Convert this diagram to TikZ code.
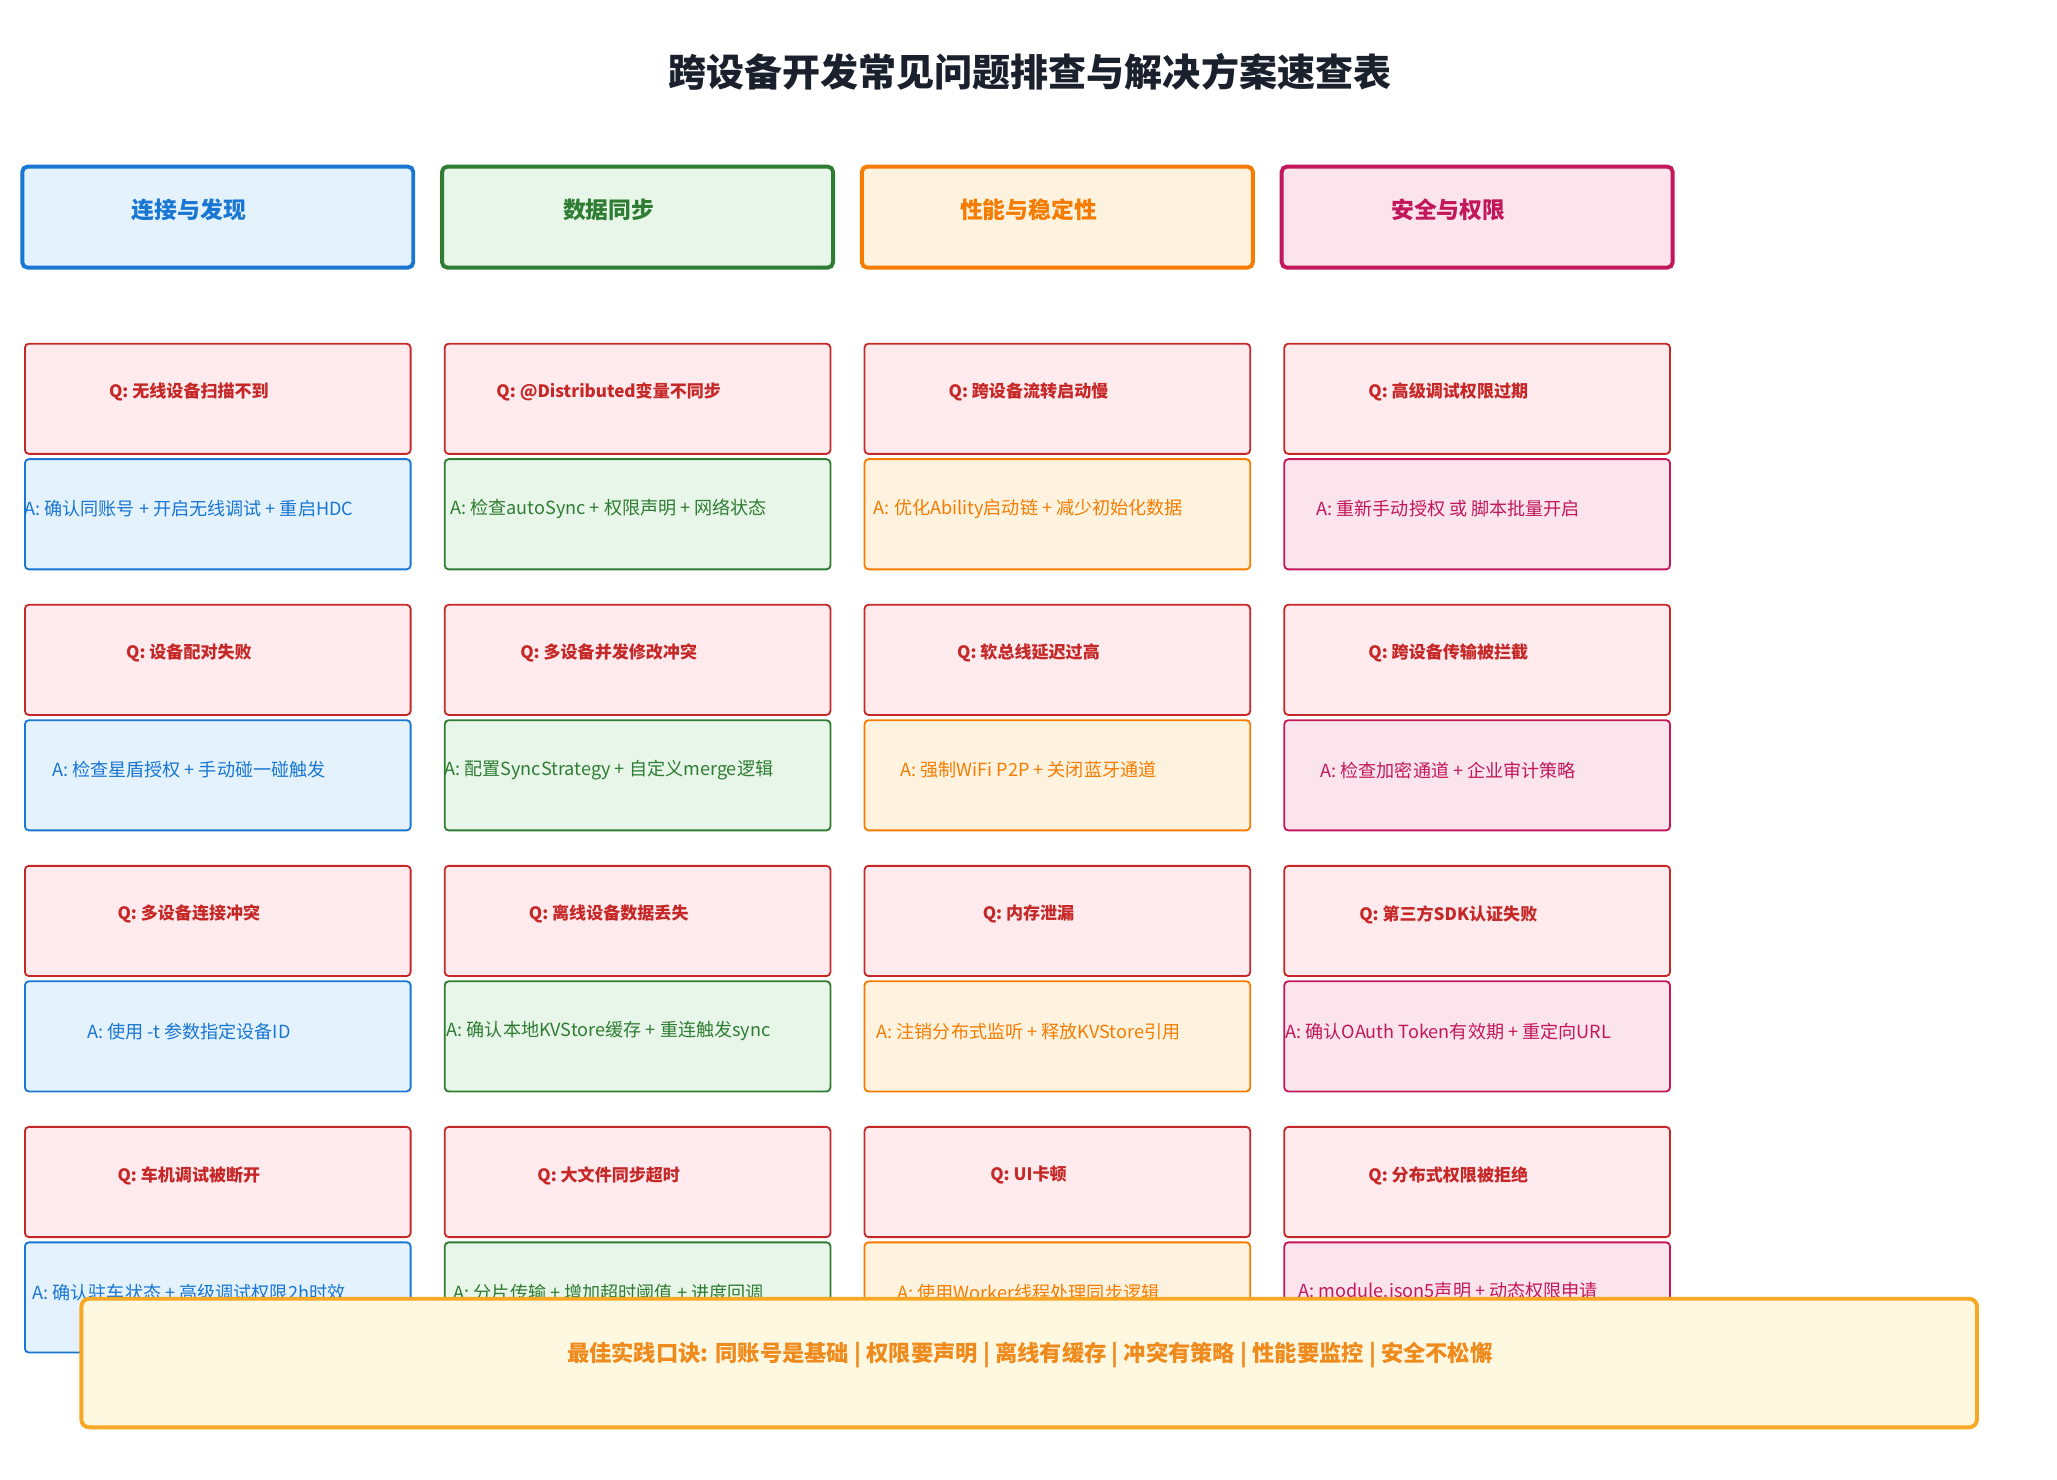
\documentclass[tikz,border=0pt]{standalone}
\usepackage{fontspec}
\setmainfont{Noto Sans CJK SC}
\begin{document}
\definecolor{cblue}{HTML}{1976D2}\definecolor{fblue}{HTML}{E3F2FD}
\definecolor{cgreen}{HTML}{2E7D32}\definecolor{fgreen}{HTML}{E8F5E9}
\definecolor{corange}{HTML}{F57C00}\definecolor{forange}{HTML}{FFF3E0}
\definecolor{cpink}{HTML}{C2185B}\definecolor{fpink}{HTML}{FCE4EC}
\definecolor{cred}{HTML}{C62828}\definecolor{fred}{HTML}{FFEBEE}
\definecolor{cyel}{HTML}{F9A825}\definecolor{fyel}{HTML}{FFF8E1}
\definecolor{tyel}{HTML}{EF8A1C}
\begin{tikzpicture}[x=0.5pt,y=-0.5pt,
 hdr/.style={draw=#1,line width=1.5pt,rounded corners=2pt},
 box/.style={draw=#1,line width=0.7pt,rounded corners=1.5pt},
 qt/.style={font=\bfseries\fontsize{6.5}{7}\selectfont,text=cred},
 at/.style={font=\fontsize{6.9}{8}\selectfont,text=#1}]
\path[use as bounding box] (0,0) rectangle (1568,1128);
\node[font=\bfseries\fontsize{14.5}{16}\selectfont,text={rgb,255:red,26;green,32;blue,44}] (title) at (785,55) {跨设备开发常见问题排查与解决方案速查表};
\foreach \i/\c/\f/\t in {0/cblue/fblue/连接与发现,1/cgreen/fgreen/数据同步,2/corange/forange/性能与稳定性,3/cpink/fpink/安全与权限}{
  \pgfmathsetmacro\x{17+320*\i}
  \draw[hdr=\c,fill=\f] (\x,127) rectangle ++(298,77);
  \node[font=\bfseries\fontsize{8.7}{10}\selectfont,text=\c] (h\i) at (\x+127,160) {\t};
}
\foreach \i/\c/\f in {0/cblue/fblue,1/cgreen/fgreen,2/corange/forange,3/cpink/fpink}{
 \foreach \r in {0,1,2,3}{
  \pgfmathsetmacro\x{19+320*\i}
  \pgfmathsetmacro\y{262+199*\r}
  \draw[box=cred,fill=fred] (\x,\y) rectangle ++(294,84);
  \draw[box=\c,fill=\f] (\x,\y+88) rectangle ++(294,84);
 }}
\foreach \i/\r/\t in {
0/0/无线设备扫描不到,0/1/设备配对失败,0/2/多设备连接冲突,0/3/车机调试被断开,
1/0/@Distributed变量不同步,1/1/多设备并发修改冲突,1/2/离线设备数据丢失,1/3/大文件同步超时,
2/0/跨设备流转启动慢,2/1/软总线延迟过高,2/2/内存泄漏,2/3/UI卡顿,
3/0/高级调试权限过期,3/1/跨设备传输被拦截,3/2/第三方SDK认证失败,3/3/分布式权限被拒绝}{
  \node[qt] (q\i\r) at ({144+320*\i},{299+199*\r}) {Q: \t};
}
\foreach \i/\r/\t/\c in {
0/0/确认同账号 + 开启无线调试 + 重启HDC/cblue,0/1/检查星盾授权 + 手动碰一碰触发/cblue,0/2/使用 -t 参数指定设备ID/cblue,0/3/确认驻车状态 + 高级调试权限2h时效/cblue,
1/0/检查autoSync + 权限声明 + 网络状态/cgreen,1/1/配置SyncStrategy + 自定义merge逻辑/cgreen,1/2/确认本地KVStore缓存 + 重连触发sync/cgreen,1/3/分片传输 + 增加超时阈值 + 进度回调/cgreen,
2/0/优化Ability启动链 + 减少初始化数据/corange,2/1/强制WiFi P2P + 关闭蓝牙通道/corange,2/2/注销分布式监听 + 释放KVStore引用/corange,2/3/使用Worker线程处理同步逻辑/corange,
3/0/重新手动授权 或 脚本批量开启/cpink,3/1/检查加密通道 + 企业审计策略/cpink,3/2/确认OAuth Token有效期 + 重定向URL/cpink,3/3/module.json5声明 + 动态权限申请/cpink}{
  \node[at=\c] (a\i\r) at ({144+320*\i},{388+199*\r}) {A: \t};
}
\draw[draw=cyel,fill=fyel,line width=1.5pt,rounded corners=3pt] (62,990) rectangle (1507,1088);
\node[font=\bfseries\fontsize{8.5}{10}\selectfont,text=tyel] (tip) at (785,1033) {最佳实践口诀: 同账号是基础 | 权限要声明 | 离线有缓存 | 冲突有策略 | 性能要监控 | 安全不松懈};
\end{tikzpicture}
\end{document}
